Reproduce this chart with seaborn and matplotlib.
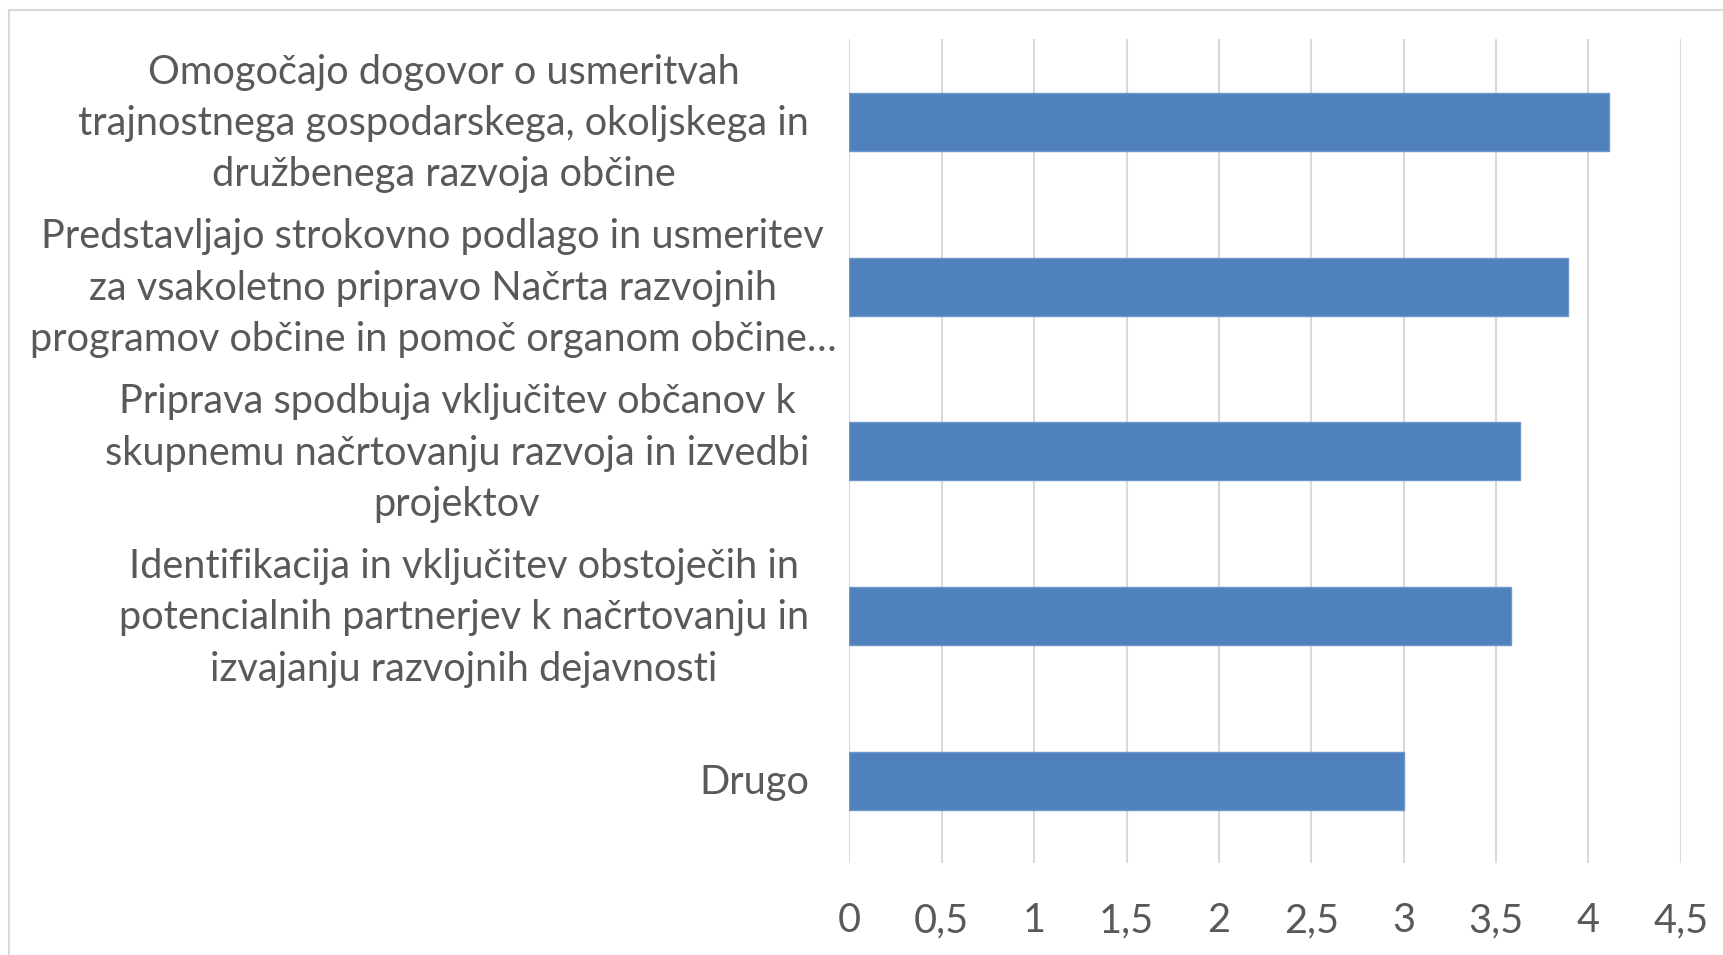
import matplotlib
matplotlib.use('Agg')
import matplotlib.pyplot as plt
import matplotlib.patches as patches
import matplotlib.transforms as mtransforms
import seaborn as sns
import numpy as np

labels = [
    'Omogočajo dogovor o usmeritvah\ntrajnostnega gospodarskega, okoljskega in\ndružbenega razvoja občine',
    'Predstavljajo strokovno podlago in usmeritev\nza vsakoletno pripravo Načrta razvojnih\nprogramov občine in pomoč organom občine…',
    'Priprava spodbuja vključitev občanov k\nskupnemu načrtovanju razvoja in izvedbi\nprojektov',
    'Identifikacija in vključitev obstoječih in\npotencialnih partnerjev k načrtovanju in\nizvajanju razvojnih dejavnosti',
    'Drugo',
]
values = [4.11, 3.89, 3.63, 3.58, 3.0]
xticks = [0, 0.5, 1, 1.5, 2, 2.5, 3, 3.5, 4, 4.5]

sns.set_style('white')
plt.rcParams['font.family'] = ['Lato', 'DejaVu Sans']

fig = plt.figure(figsize=(17.23, 9.55), dpi=100)
ax = fig.add_axes([0.493, 0.0959, 0.9755 - 0.493, 0.9588 - 0.0959])

sns.barplot(x=values, y=labels, color='#4F81BD', saturation=1, width=0.352,
            edgecolor='#6F97CB', linewidth=1, ax=ax)

ax.set_xlim(0, 4.5)
ax.set_xticks(xticks)
ax.set_xticklabels([('%g' % t).replace('.', ',') for t in xticks])
ax.xaxis.grid(True, color='#d9d9d9', linewidth=1.5)
ax.set_axisbelow(True)
for s in ax.spines.values():
    s.set_visible(False)
ax.set_xlabel('')
ax.set_ylabel('')
ax.tick_params(axis='x', length=0, pad=28, labelsize=28.6, labelcolor='#595959')
ax.tick_params(axis='y', length=0, pad=29, labelsize=28.6, labelcolor='#595959')
for t in ax.get_yticklabels():
    t.set_multialignment('center')
    t.set_linespacing(1.48)
    # excel centres the blocks a little higher; the truncated one sticks out to the right
    dx = 27 if t.get_text().endswith('…') else 0
    dy = 9 if '\n' in t.get_text() else 2
    t.set_transform(t.get_transform() + mtransforms.ScaledTranslation(dx / 100, dy / 100, fig.dpi_scale_trans))

# chart border
fig.add_artist(patches.Rectangle((9 / 1723, -0.1), 1.2, 1.1 - 10 / 955,
                                 transform=fig.transFigure, fill=False,
                                 edgecolor='#d9d9d9', linewidth=1.5))

fig.savefig('out.png', dpi=100)
